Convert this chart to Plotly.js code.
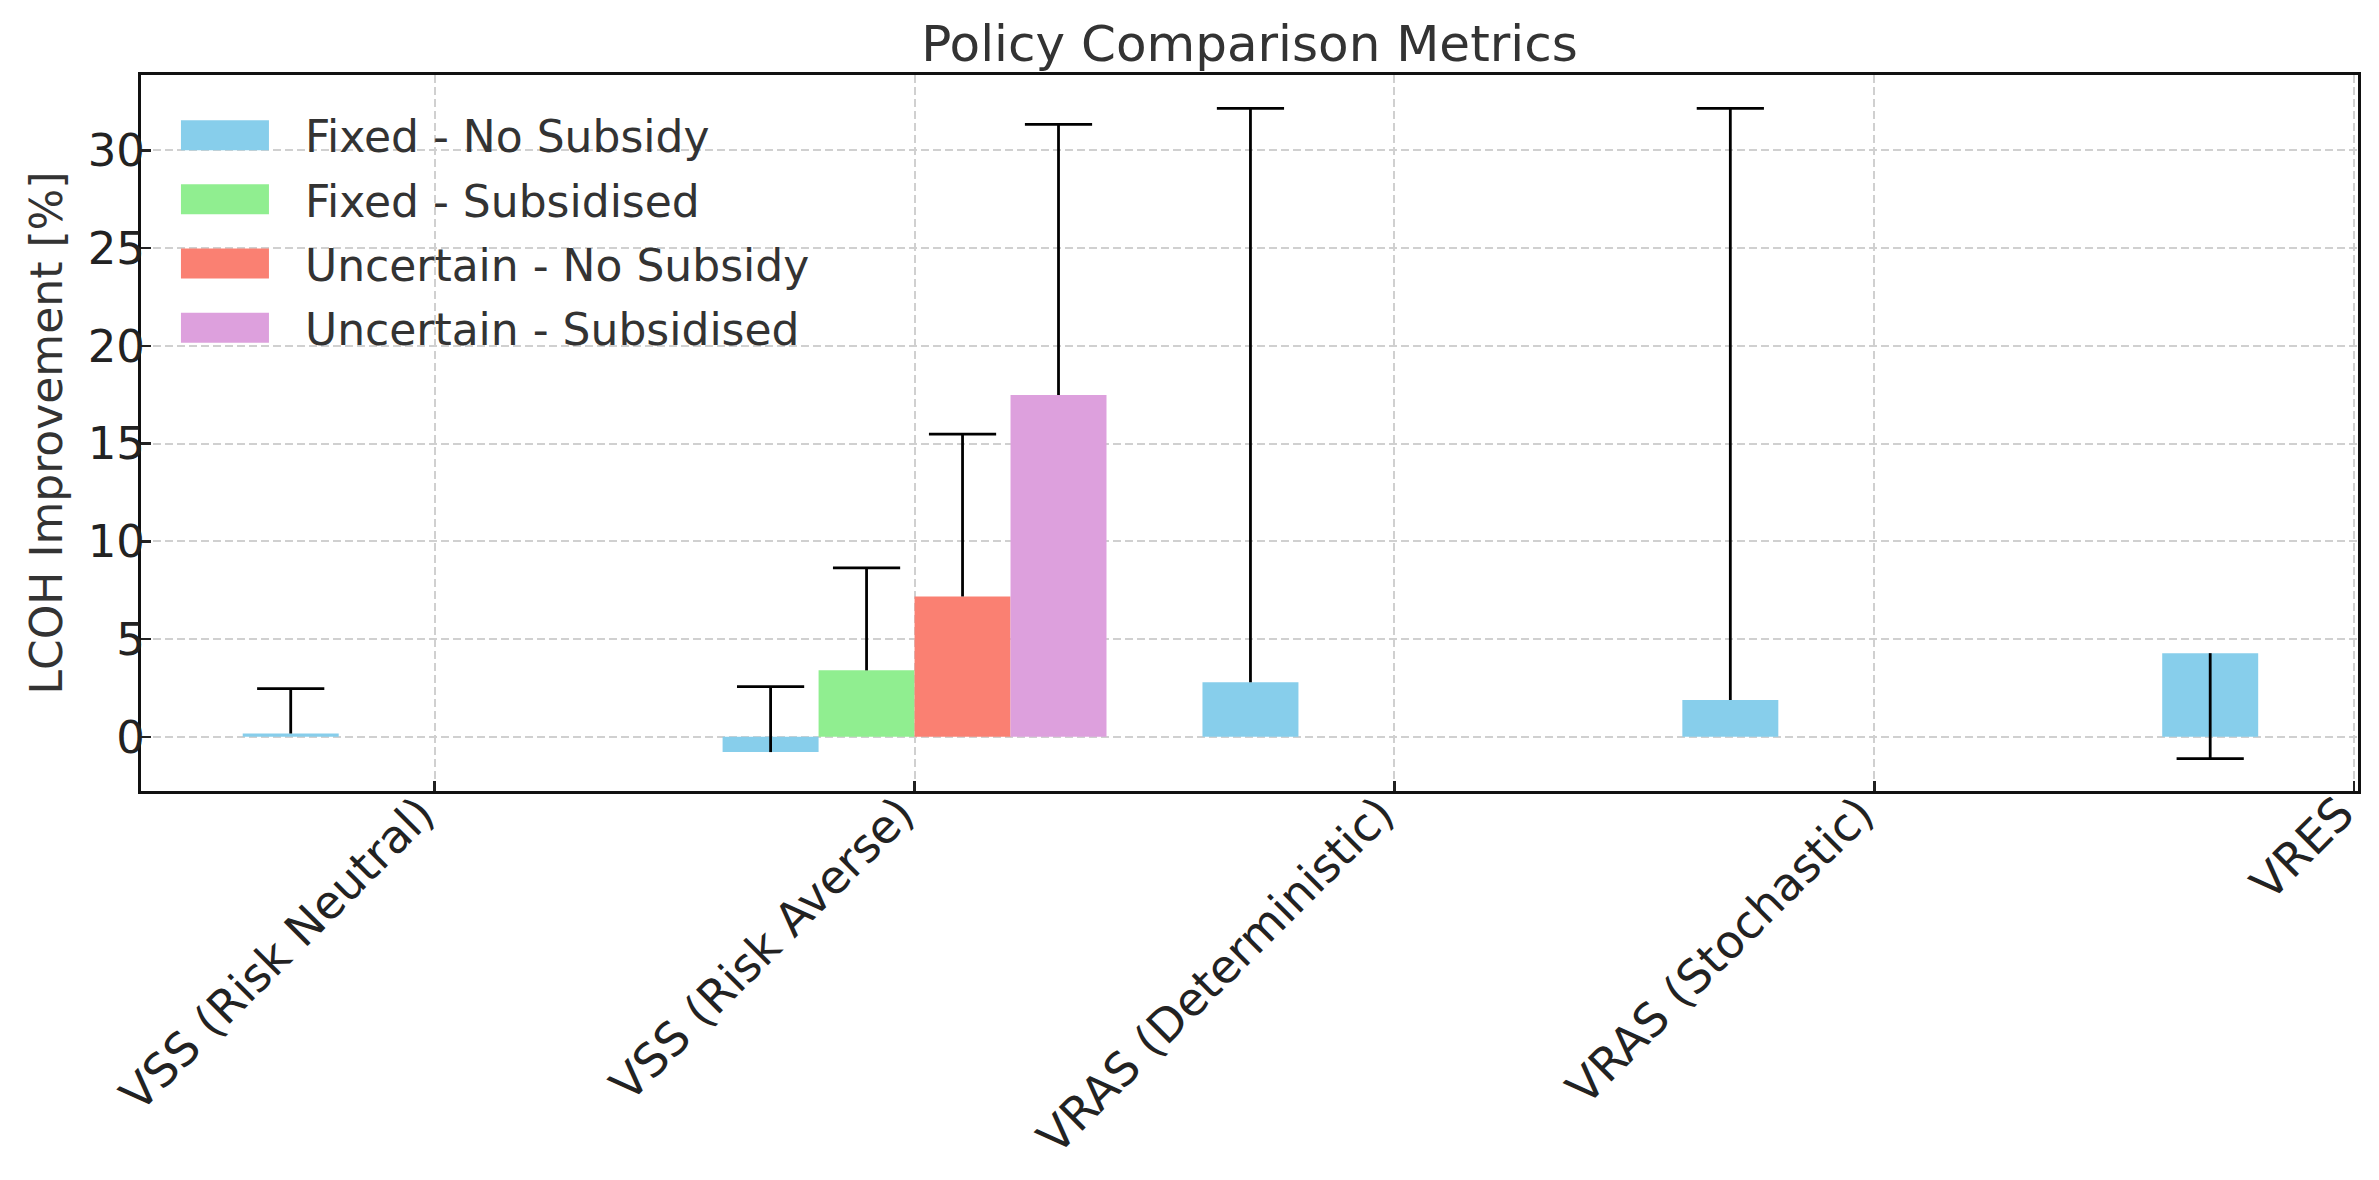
<!DOCTYPE html>
<html>
<head>
<meta charset="utf-8">
<script src="https://cdn.plot.ly/plotly-3.0.1.min.js"></script>
<style>
  html, body { margin: 0; padding: 0; background: #ffffff; }
  #chart { width: 2379px; height: 1180px; }
</style>
</head>
<body>
<div id="chart"></div>
<script>
// ---- data ----
const categories = ["VSS (Risk Neutral)", "VSS (Risk Averse)", "VRAS (Deterministic)", "VRAS (Stochastic)", "VRES"];
const seriesNames = ["Fixed - No Subsidy", "Fixed - Subsidised", "Uncertain - No Subsidy", "Uncertain - Subsidised"];
const seriesColors = ["#87CEEB", "#90EE90", "#FA8072", "#DDA0DD"];

const fixedNoSubsidy     = [0.17, -0.78, 2.79, 1.88, 4.28];
const fixedSubsidised    = [null, 3.40, null, null, null];
const uncertainNoSubsidy = [null, 7.18, null, null, null];
const uncertainSubsidised= [null, 17.48, null, null, null];

const fixedNoSubsidyErrPlus      = [2.30, 3.35, 29.35, 30.26, 0];
const fixedNoSubsidyErrMinus     = [0, 0, 0, 0, 5.39];
const fixedSubsidisedErrPlus     = [0, 5.24, 0, 0, 0];
const fixedSubsidisedErrMinus    = [0, 0, 0, 0, 0];
const uncertainNoSubsidyErrPlus  = [0, 8.30, 0, 0, 0];
const uncertainNoSubsidyErrMinus = [0, 0, 0, 0, 0];
const uncertainSubsidisedErrPlus = [0, 13.84, 0, 0, 0];
const uncertainSubsidisedErrMinus= [0, 0, 0, 0, 0];

const yTickVals = [0, 5, 10, 15, 20, 25, 30];

// ---- build traces ----
const seriesValues = [fixedNoSubsidy, fixedSubsidised, uncertainNoSubsidy, uncertainSubsidised];
const seriesErrPlus = [fixedNoSubsidyErrPlus, fixedSubsidisedErrPlus, uncertainNoSubsidyErrPlus, uncertainSubsidisedErrPlus];
const seriesErrMinus = [fixedNoSubsidyErrMinus, fixedSubsidisedErrMinus, uncertainNoSubsidyErrMinus, uncertainSubsidisedErrMinus];

const barWidth = 0.2;
const nSeries = seriesNames.length;
const idx = categories.map((c, i) => i);
const ERR_W = 2.8;

const traces = [];
seriesNames.forEach((name, k) => {
  traces.push({
    type: "bar",
    name: name,
    legendgroup: "g" + k,
    x: idx,
    y: seriesValues[k],
    marker: { color: seriesColors[k], line: { width: 0 } },
    error_y: {
      type: "data", symmetric: false,
      array: seriesErrPlus[k], arrayminus: seriesErrMinus[k],
      width: 0, thickness: ERR_W, color: "#000000"
    },
    hoverinfo: "x+y+name"
  });
});

// caps at the far end of each error bar
seriesNames.forEach((name, k) => {
  const off = (k - (nSeries - 1) / 2) * barWidth;
  const cx = [], cy = [];
  idx.forEach(i => {
    const v = seriesValues[k][i];
    if (v === null) return;
    if (seriesErrPlus[k][i] > 0) { cx.push(i + off); cy.push(v + seriesErrPlus[k][i]); }
    if (seriesErrMinus[k][i] > 0) { cx.push(i + off); cy.push(v - seriesErrMinus[k][i]); }
  });
  traces.push({
    type: "scatter", mode: "markers", x: cx, y: cy, showlegend: false, hoverinfo: "skip",
    marker: { symbol: "line-ew-open", size: 48, color: "#000000", line: { width: ERR_W, color: "#000000" } }
  });
});

const FONT = "DejaVu Sans, sans-serif";
const layout = {
  width: 2379, height: 1180,
  paper_bgcolor: "#ffffff", plot_bgcolor: "#ffffff",
  font: { family: FONT, color: "#222222", size: 44 },
  margin: { l: 141, r: 21, t: 75, b: 389, pad: 0 },
  barmode: "group", bargap: 0.2, bargroupgap: 0,
  showlegend: true,
  title: {
    text: "Policy Comparison Metrics",
    font: { family: FONT, size: 50, color: "#333333" },
    x: 0.5, xref: "paper", xanchor: "center",
    y: 1, yref: "paper", yanchor: "bottom", pad: { b: 14 }
  },
  xaxis: {
    type: "linear",
    range: [-0.612, 4.008],
    tickmode: "array", tickvals: idx, ticktext: categories,
    tickangle: -45,
    tickfont: { family: FONT, size: 46, color: "#222222" },
    ticklabelstandoff: -26, ticklabelshift: -14,
    ticks: "inside", ticklen: 10, tickwidth: 2.5, tickcolor: "#222222",
    showline: true, linecolor: "#111111", linewidth: 3, mirror: true,
    showgrid: true, gridcolor: "#d0d0d0", gridwidth: 2, griddash: "8px,4px",
    zeroline: false
  },
  yaxis: {
    range: [-2.77, 33.85],
    tickmode: "array", tickvals: yTickVals, ticktext: yTickVals.map(String),
    tickfont: { family: FONT, size: 45, color: "#222222" },
    ticklabelstandoff: -16,
    ticks: "inside", ticklen: 10, tickwidth: 2.5, tickcolor: "#222222",
    showline: true, linecolor: "#111111", linewidth: 3, mirror: true,
    showgrid: true, gridcolor: "#d0d0d0", gridwidth: 2, griddash: "8px,4px",
    zeroline: false,
    title: { text: "LCOH Improvement [%]", font: { family: FONT, size: 44, color: "#333333" }, standoff: 12 }
  },
  legend: {
    x: 0.009, y: 0.965, xanchor: "left", yanchor: "top",
    bgcolor: "rgba(255,255,255,0)", borderwidth: 0,
    font: { family: FONT, size: 44, color: "#333333" },
    itemwidth: 134, traceorder: "grouped", tracegroupgap: 4
  }
};

Plotly.newPlot("chart", traces, layout, { displayModeBar: false, staticPlot: true }).then(() => {
  // widen legend patches to matplotlib-style rectangles
  document.querySelectorAll("#chart .legend .legendpoints path").forEach(p => {
    p.setAttribute("d", "M36,15H-52V-15H36Z");
  });
});
</script>
</body>
</html>
